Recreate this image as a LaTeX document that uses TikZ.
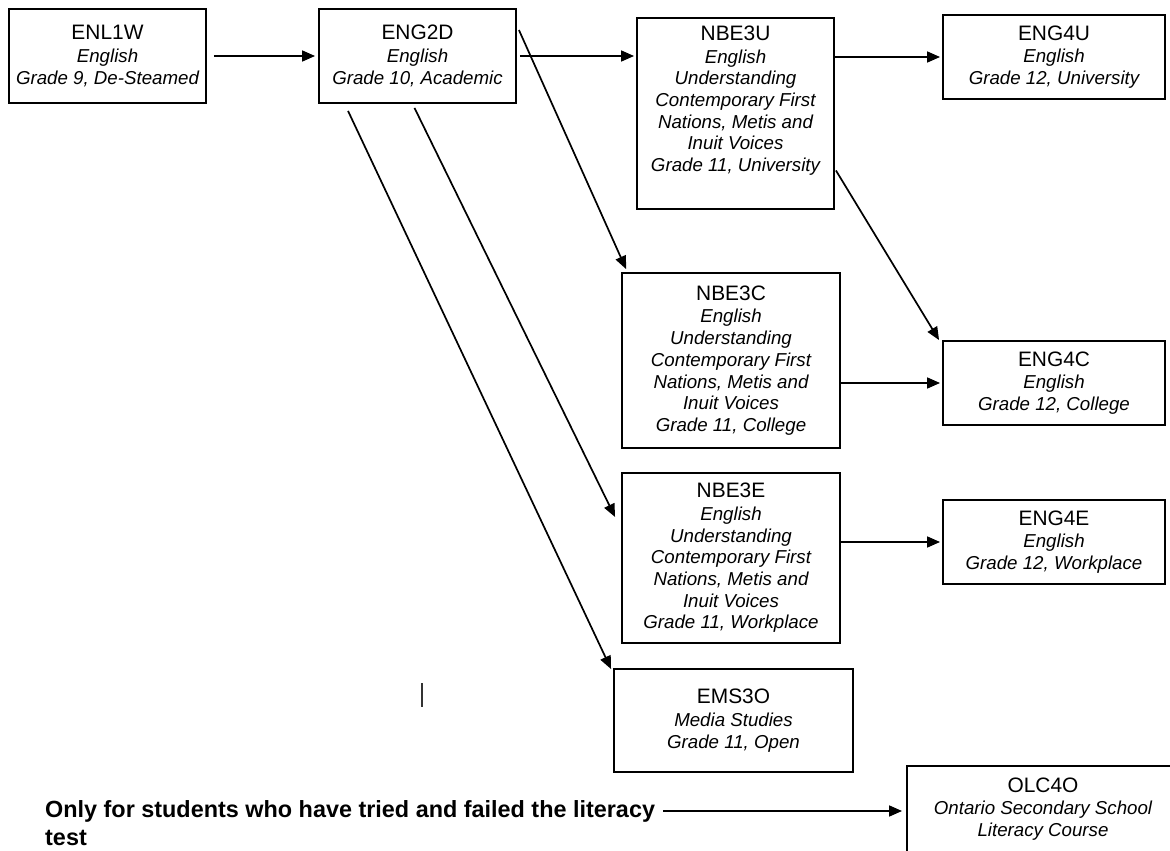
\documentclass[tikz,border=0pt]{standalone}
\usepackage{fontspec}
\setmainfont{Liberation Sans}
\usetikzlibrary{arrows.meta,calc}
\newcommand{\coursecode}[1]{{\upshape\fontsize{20.9}{24}\selectfont #1}\\[1pt]}

\tikzset{
  course/.style={draw, line width=1.9pt, align=center, inner sep=0pt, font=\fontsize{18.7}{21.7}\selectfont\itshape},
  link/.style={line width=1.7pt, -{Triangle[length=13pt,width=11pt]}},
  note/.style={align=left, inner sep=0pt, font=\bfseries\fontsize{23.4}{28}\selectfont}
}

\begin{document}
\begin{tikzpicture}[x=1pt,y=-1pt]
\clip (0,0) rectangle (1170,851);
\fill[white] (0,0) rectangle (1170,851);
\node[course, minimum width=197, minimum height=94] (enl1w) at (107.5,56) {\coursecode{ENL1W}English\\Grade 9, De-Steamed};
\node[course, minimum width=197, minimum height=94] (eng2d) at (417.5,56) {\coursecode{ENG2D}English\\Grade 10, Academic};
\node[course, minimum width=197, minimum height=191] (nbe3u) at (735.5,113.5) {\coursecode{NBE3U}English\\Understanding\\Contemporary First\\Nations, Metis and\\Inuit Voices\\Grade 11, University\\[8pt]\mbox{}};
\node[course, minimum width=222, minimum height=84] (eng4u) at (1054,57) {\coursecode{ENG4U}English\\Grade 12, University};
\node[course, minimum width=218, minimum height=175] (nbe3c) at (731,360.5) {\coursecode{NBE3C}English\\Understanding\\Contemporary First\\Nations, Metis and\\Inuit Voices\\Grade 11, College};
\node[course, minimum width=218, minimum height=170] (nbe3e) at (731,558) {\coursecode{NBE3E}English\\Understanding\\Contemporary First\\Nations, Metis and\\Inuit Voices\\Grade 11, Workplace};
\node[course, minimum width=222, minimum height=84] (eng4c) at (1054,383) {\coursecode{ENG4C}English\\Grade 12, College};
\node[course, minimum width=222, minimum height=84] (eng4e) at (1054,542) {\coursecode{ENG4E}English\\Grade 12, Workplace};
\node[course, minimum width=239, minimum height=103] (ems3o) at (733.5,720.5) {\coursecode{EMS3O}Media Studies\\Grade 11, Open};
\node[course, minimum width=272, minimum height=86] (olc4o) at (1043,809) {\coursecode{OLC4O}Ontario Secondary School\\Literacy Course};
\node[note, anchor=base west] (note) at (45,845) {Only for students who have tried and failed the literacy\\test};
\coordinate (lit) at ($(note.base east)+(8,-34)$);

\draw[link, shorten <=7pt, shorten >=3pt] (enl1w) -- (eng2d);
\draw[link, shorten <=3pt, shorten >=2pt] (eng2d.east) -- (eng2d.east -| nbe3u.west);
\draw[link, shorten >=2pt] (nbe3u.east |- eng4u.west) -- (eng4u.west);
\draw[link] ($(eng2d.north east)+(2,22)$) -- ($(nbe3c.north west)+(5,-3)$);
\draw[link] ($(eng2d.south)+(-3,4)$) -- ($(nbe3e.west)+(-6,-41)$);
\draw[link] ($(eng2d.south west)+(30,7)$) -- ($(ems3o.north west)+(-2,1)$);
\draw[link] ($(nbe3u.east)+(1,57)$) -- ($(eng4c.north west)+(-3,0)$);
\draw[link, shorten >=2pt] (nbe3c.east |- eng4c.west) -- (eng4c.west);
\draw[link, shorten >=2pt] (nbe3e.east |- eng4e.west) -- (eng4e.west);
\draw[link, shorten >=4pt] (lit) -- (lit -| olc4o.west);
\draw[line width=2pt, black!80] (422,683) -- (422,707);
\end{tikzpicture}
\end{document}
